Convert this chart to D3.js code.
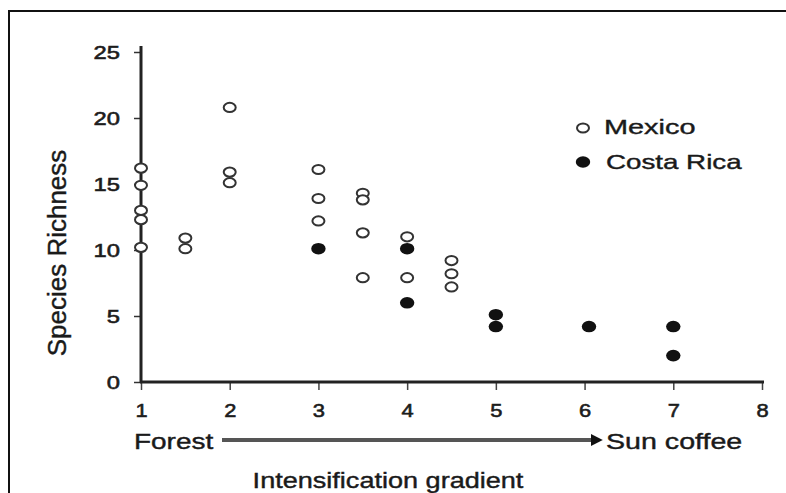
<!DOCTYPE html>
<html>
<head>
<meta charset="utf-8">
<script src="https://cdn.jsdelivr.net/npm/d3@7"></script>
<style>
  body { margin: 0; background: #fff; }
  text { font-family: "Liberation Sans", Arial, sans-serif; fill: #1a1a1a; }
</style>
</head>
<body>
<div id="chart"></div>
<script>
// Species richness along the intensification gradient
const mexicoX = [1, 1, 1, 1, 1, 1.5, 1.5, 2, 2, 2, 3, 3, 3, 3.5, 3.5, 3.5, 3.5, 4, 4, 4.5, 4.5, 4.5];
const mexicoY = [16.2, 14.9, 13.0, 12.3, 10.2, 10.9, 10.1, 20.8, 15.9, 15.1, 16.1, 13.9, 12.2, 14.3, 13.8, 11.3, 7.9, 11.0, 7.9, 9.2, 8.2, 7.2];
const costaX = [3, 4, 4, 5, 5, 6.05, 7, 7];
const costaY = [10.1, 10.1, 6.0, 5.1, 4.2, 4.2, 4.2, 2.0];
const xTicks = [1, 2, 3, 4, 5, 6, 7, 8];
const yTicks = [0, 5, 10, 15, 20, 25];
const seriesNames = ["Mexico", "Costa Rica"];

const W = 786, H = 493;
const svg = d3.select("#chart").append("svg").attr("width", W).attr("height", H);

// outer frame (runs off the right and bottom edges)
svg.append("rect")
  .attr("x", 9).attr("y", 11).attr("width", W).attr("height", H)
  .attr("fill", "none").attr("stroke", "#111").attr("stroke-width", 2);

const x = d3.scaleLinear().domain([1, 8]).range([141, 762]);
const y = d3.scaleLinear().domain([0, 25]).range([382, 52]);

// the source image is stretched sideways, so text gets widened a bit
const widen = (sel, k) =>
  sel.each(function () {
    const t = d3.select(this);
    t.attr("textLength", this.getComputedTextLength() * k).attr("lengthAdjust", "spacingAndGlyphs");
  });

// y axis
const yAxis = svg.append("g")
  .attr("transform", `translate(${x(1)},0)`)
  .call(d3.axisLeft(y).tickValues(yTicks).tickSize(7).tickPadding(14).tickSizeOuter(0));
yAxis.select(".domain").remove();
yAxis.selectAll(".tick line").attr("stroke", "#333").attr("stroke-width", 1.5);
yAxis.selectAll(".tick text")
  .style("font-size", "19px").style("font-family", "Liberation Sans")
  .attr("fill", "#222").attr("stroke", "#222").attr("stroke-width", 0.6).call(widen, 1.25);

// x axis
const xAxis = svg.append("g")
  .attr("transform", `translate(0,${y(0)})`)
  .call(d3.axisBottom(x).tickValues(xTicks).tickFormat(d3.format("d")).tickSize(8).tickPadding(14).tickSizeOuter(0));
xAxis.select(".domain").remove();
xAxis.selectAll(".tick line").attr("stroke", "#444").attr("stroke-width", 1.5);
xAxis.selectAll(".tick text")
  .style("font-size", "19px").style("font-family", "Liberation Sans")
  .attr("fill", "#222").attr("stroke", "#222").attr("stroke-width", 0.6).call(widen, 1.15);

// thick axis lines
svg.append("line")
  .attr("x1", x(1)).attr("x2", x(1)).attr("y1", y(25) - 6).attr("y2", y(0) + 1)
  .attr("stroke", "#222").attr("stroke-width", 3);
svg.append("line")
  .attr("x1", x(1) - 1).attr("x2", x(8) + 2).attr("y1", y(0)).attr("y2", y(0))
  .attr("stroke", "#222").attr("stroke-width", 3);

// points
const mexico = mexicoX.map((v, i) => ({ x: v, y: mexicoY[i] }));
const costa = costaX.map((v, i) => ({ x: v, y: costaY[i] }));

svg.append("g").selectAll("ellipse")
  .data(mexico)
  .join("ellipse")
  .attr("cx", (d) => x(d.x)).attr("cy", (d) => y(d.y))
  .attr("rx", 6).attr("ry", 4.6)
  .attr("fill", "#fff").attr("stroke", "#333").attr("stroke-width", 2);

svg.append("g").selectAll("ellipse")
  .data(costa)
  .join("ellipse")
  .attr("cx", (d) => x(d.x)).attr("cy", (d) => y(d.y))
  .attr("rx", 7.2).attr("ry", 5.8)
  .attr("fill", "#111");

// legend
const legend = svg.append("g");
legend.append("ellipse").attr("cx", 583).attr("cy", 128).attr("rx", 6).attr("ry", 4.6)
  .attr("fill", "#fff").attr("stroke", "#333").attr("stroke-width", 2);
legend.append("ellipse").attr("cx", 583).attr("cy", 162).attr("rx", 7.2).attr("ry", 5.8)
  .attr("fill", "#111");
legend.append("text").attr("x", 604).attr("y", 134).style("font-size", "21px")
  .attr("stroke", "#1a1a1a").attr("stroke-width", 0.4).text(seriesNames[0]).call(widen, 88 / 64);
legend.append("text").attr("x", 606).attr("y", 169).style("font-size", "21px")
  .attr("stroke", "#1a1a1a").attr("stroke-width", 0.4).text(seriesNames[1]).call(widen, 1.32);

// axis titles
svg.append("text")
  .attr("transform", "rotate(-90)")
  .attr("x", -253).attr("y", 66)
  .attr("text-anchor", "middle")
  .style("font-size", "25px")
  .attr("stroke", "#1a1a1a").attr("stroke-width", 0.4)
  .text("Species Richness").call(widen, 1.04);

svg.append("text").attr("x", 134).attr("y", 449).style("font-size", "22px")
  .attr("stroke", "#1a1a1a").attr("stroke-width", 0.4).text("Forest").call(widen, 1.27);
svg.append("text").attr("x", 606).attr("y", 449).style("font-size", "22px")
  .attr("stroke", "#1a1a1a").attr("stroke-width", 0.4).text("Sun coffee").call(widen, 1.3);
svg.append("text").attr("x", 388).attr("y", 488).attr("text-anchor", "middle")
  .style("font-size", "22px").attr("stroke", "#1a1a1a").attr("stroke-width", 0.4)
  .text("Intensification gradient").call(widen, 1.23);

// gradient arrow
svg.append("defs").append("marker")
  .attr("id", "arrow").attr("viewBox", "0 0 10 10")
  .attr("refX", 1).attr("refY", 5)
  .attr("markerWidth", 3).attr("markerHeight", 3).attr("orient", "auto")
  .append("path").attr("d", "M0,0L10,5L0,10Z").attr("fill", "#111");
svg.append("line")
  .attr("x1", 222).attr("x2", 592).attr("y1", 440).attr("y2", 440)
  .attr("stroke", "#555").attr("stroke-width", 4)
  .attr("marker-end", "url(#arrow)");
</script>
</body>
</html>
